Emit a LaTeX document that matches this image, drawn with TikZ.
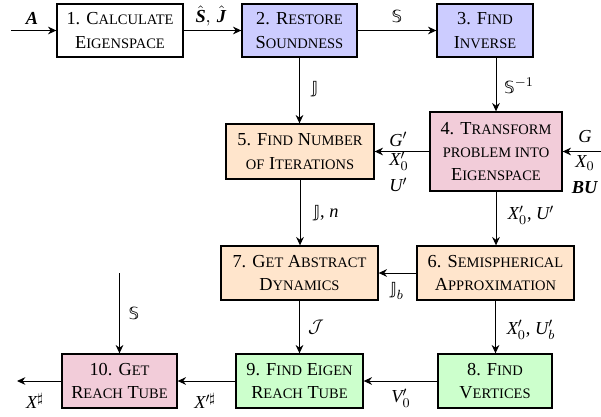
\documentclass[tikz,border=0pt]{standalone}
\usepackage{fontspec}
\setmainfont{Liberation Serif}
\newfontfamily\dsf{DejaVu Sans}
\usetikzlibrary{arrows.meta}
\newcommand\mysc[1]{{\fontsize{8.7}{14}\selectfont #1}}
\newcommand\vi[1]{\textit{#1}}
\newcommand\vb[1]{\textbf{\textit{#1}}}
\newcommand\dbS{\mbox{\dsf\fontsize{10}{12}\selectfont 𝕊}}
\newcommand\dbJ{\mbox{\dsf\fontsize{10}{12}\selectfont 𝕁}}
\definecolor{cblue}{RGB}{204,204,255}
\definecolor{cpink}{RGB}{242,204,217}
\definecolor{cpeach}{RGB}{255,229,204}
\definecolor{cgreen}{RGB}{204,255,204}
\begin{document}
\begin{tikzpicture}[x=0.6pt,y=-0.6pt,
  box/.style={draw, line width=0.8pt, align=center, inner sep=0pt, font=\fontsize{11}{14}\selectfont},
  wh/.style 2 args={minimum width=#1*0.6pt, minimum height=#2*0.6pt},
  arr/.style={-{Stealth[length=5pt,width=4.6pt]}, line width=0.6pt},
  lbl/.style={inner sep=0pt, font=\fontsize{11}{13}\selectfont}]
\useasboundingbox (0,0) rectangle (601,417);
% boxes
\node[box, wh={126}{53}] (n1) at (120,30.5) {1. C\mysc{ALCULATE}\\E\mysc{IGENSPACE}};
\node[box, wh={115}{53}, fill=cblue] (n2) at (299.5,30.5) {2. R\mysc{ESTORE}\\S\mysc{OUNDNESS}};
\node[box, wh={96}{53}, fill=cblue] (n3) at (485,30.5) {3. F\mysc{IND}\\I\mysc{NVERSE}};
\node[box, wh={132}{79}, fill=cpink] (n4) at (496,151.5) {4. T\mysc{RANSFORM}\\\mysc{PROBLEM INTO}\\E\mysc{IGENSPACE}};
\node[box, wh={148}{55}, fill=cpeach] (n5) at (300,151.5) {5. F\mysc{IND} N\mysc{UMBER}\\\mysc{OF} I\mysc{TERATIONS}};
\node[box, wh={157}{54}, fill=cpeach] (n6) at (495.5,273) {6. S\mysc{EMISPHERICAL}\\A\mysc{PPROXIMATION}};
\node[box, wh={157}{54}, fill=cpeach] (n7) at (299.5,273) {7. G\mysc{ET} A\mysc{BSTRACT}\\D\mysc{YNAMICS}};
\node[box, wh={114}{54}, fill=cgreen] (n8) at (495,381) {8. F\mysc{IND}\\V\mysc{ERTICES}};
\node[box, wh={127}{54}, fill=cgreen] (n9) at (299.5,381) {9. F\mysc{IND} E\mysc{IGEN}\\R\mysc{EACH} T\mysc{UBE}};
\node[box, wh={115}{54}, fill=cpink] (n10) at (119.5,381) {10. G\mysc{ET}\\R\mysc{EACH} T\mysc{UBE}};
% free ends
\coordinate (inA) at (11,30.5);
\coordinate (inG) at (601,151.5);
\coordinate (inS) at (119.5,273);
\coordinate (outX) at (17,381);
% connectors
\draw[arr] (inA) -- (n1.west);
\draw[arr] (n1) -- (n2);
\draw[arr] (n2) -- (n3);
\draw[arr] (n2.south) -- (n2.south |- n5.north);
\draw[arr] (n4.north |- n3.south) -- (n4.north);
\draw[arr] (inG) -- (n4.east);
\draw[arr] (n4) -- (n5);
\draw[arr] (n5.south) -- (n5.south |- n7.north);
\draw[arr] (n4.south) -- (n4.south |- n6.north);
\draw[arr] (n6) -- (n7);
\draw[arr] (n6.south) -- (n6.south |- n8.north);
\draw[arr] (n7.south) -- (n7.south |- n9.north);
\draw[arr] (n8) -- (n9);
\draw[arr] (n9) -- (n10);
\draw[arr] (inS) -- (n10.north);
\draw[arr] (n10.west) -- (outX);
% labels
\node[lbl] (lA) at (32,18) {$\vb{A}$};
\node[lbl] (lSJ) at (211,16) {$\hat{\vb{S}},\,\hat{\vb{J}}$};
\node[lbl] (lS1) at (397,16) {$\dbS$};
\node[lbl] (lJ1) at (315,89) {$\dbJ$};
\node[lbl] (lSinv) at (519,86) {$\dbS^{-1}$};
\node[lbl, anchor=west] (lG1) at (389,139) {$\vi{G}'$};
\node[lbl, anchor=west] (lX1) at (389,161) {$\vi{X}'_0$};
\node[lbl, anchor=west] (lU1) at (389,185) {$\vi{U}'$};
\node[lbl] (lG) at (585,137) {$\vi{G}$};
\node[lbl] (lX) at (585,163) {$\vi{X}_0$};
\node[lbl] (lBU) at (585,188) {$\vb{BU}$};
\node[lbl] (lJn) at (326,213) {$\dbJ$, $\vi{n}$};
\node[lbl] (lXU) at (531,215) {$\vi{X}'_0$, $\vi{U}'$};
\node[lbl] (lJb) at (397,291) {$\dbJ_b$};
\node[lbl] (lcJ) at (316,327) {$\mathcal{J}$};
\node[lbl] (lXUb) at (531,330) {$\vi{X}'_0$, $\vi{U}'_b$};
\node[lbl] (lS2) at (134,313) {$\dbS$};
\node[lbl] (lV) at (401,398) {$\vi{V}'_0$};
\node[lbl] (lXs1) at (205,401) {$\vi{X}'^\sharp$};
\node[lbl] (lXs) at (35,401) {$\vi{X}^\sharp$};
\end{tikzpicture}
\end{document}
